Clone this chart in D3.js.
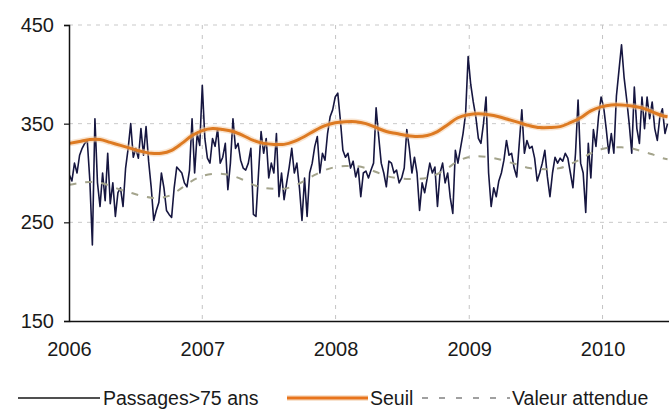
<!DOCTYPE html>
<html>
<head>
<meta charset="utf-8">
<script src="https://cdn.jsdelivr.net/npm/d3@7"></script>
<style>
  html, body { margin: 0; padding: 0; background: #fff; }
  svg { display: block; font-family: "Liberation Sans", Arial, sans-serif; }
</style>
</head>
<body>
<svg id="chart" width="669" height="411"></svg>
<script>
// ---- data ----
const startDate = new Date(2006, 0, 2); // first weekly point
const passages = [
  298,292,310,300,318,325,330,333,293,227,355,290,266,300,272,320,269,290,256,280,
  285,266,305,325,350,316,325,315,345,318,347,312,286,252,262,270,300,285,262,258,
  255,285,306,303,300,290,286,303,355,300,340,328,389,335,315,310,335,327,345,310,
  316,330,283,310,355,325,330,313,305,303,310,325,258,256,300,342,320,335,295,310,
  300,340,276,300,273,290,306,325,300,310,285,252,295,256,300,310,327,337,300,320,
  313,340,357,364,377,381,354,323,316,320,305,312,296,305,276,300,302,295,303,310,
  366,337,310,300,286,312,310,300,303,290,295,305,344,325,300,316,300,262,290,280,
  295,310,300,306,266,300,310,290,300,275,259,323,310,325,340,360,418,390,372,357,
  335,330,350,377,300,266,285,276,292,300,313,333,318,320,305,296,330,364,320,333,
  325,327,315,292,300,310,323,296,276,300,316,310,315,312,320,315,300,285,320,374,
  310,300,260,330,295,344,327,357,377,367,345,320,340,320,378,404,430,397,375,350,
  320,387,345,330,377,345,377,355,372,345,333,357,365,340,350
];
// Seuil and Valeur attendue, read every 4 weeks (last point = week 234)
const refWeeks = [0,4,8,12,16,20,24,28,32,36,40,44,48,52,56,60,64,68,72,76,80,84,88,92,96,
  100,104,108,112,116,120,124,128,132,136,140,144,148,152,156,160,164,168,172,176,180,184,
  188,192,196,200,204,208,212,216,220,224,228,232,234];
const seuil = [330,332,334,334,331,328,325,322,320,320,323,330,338,343,345,344,342,338,333,330,
  329,329,332,337,343,348,351,352,352,350,346,342,340,338,337,338,342,349,356,359,
  360,359,357,354,351,348,346,346,347,351,356,363,367,369,369,368,366,362,358,357];
const attendue = [288,290,291,290,287,283,280,277,275,275,278,285,292,297,299,299,297,293,288,285,
  284,284,287,292,298,303,306,307,307,305,301,297,295,294,294,295,299,305,312,316,
  317,316,314,311,308,305,304,304,305,309,314,320,324,326,326,325,322,319,315,314];
const yTicks = [150, 250, 350, 450];
const yearLabels = ["2006", "2007", "2008", "2009", "2010"];
const legendLabels = ["Passages>75 ans", "Seuil", "Valeur attendue"];

// ---- layout ----
const svg = d3.select("#chart");
const pL = 69, pR = 669, pT = 25, pB = 321;
const weekDate = i => d3.timeDay.offset(startDate, i * 7);

const x = d3.scaleTime()
  .domain([new Date(2006, 0, 1), new Date(2010, 6, 2)])
  .range([pL, pR]);
const y = d3.scaleLinear().domain([150, 450]).range([pB, pT]);

svg.append("defs").append("clipPath").attr("id", "clip")
  .append("rect").attr("x", pL).attr("y", 0).attr("width", pR - pL).attr("height", pB);

// grid lines
const grid = svg.append("g");
grid.selectAll("line.h").data(yTicks.filter(v => v > 150)).join("line")
  .attr("x1", pL).attr("x2", pR)
  .attr("y1", d => y(d)).attr("y2", d => y(d))
  .attr("stroke", "#c9c9c9").attr("stroke-width", 1).attr("stroke-dasharray", "4,5");
const yearDates = yearLabels.map(s => new Date(+s, 0, 1));
grid.selectAll("line.v").data(yearDates.slice(1)).join("line")
  .attr("x1", d => x(d)).attr("x2", d => x(d))
  .attr("y1", pT).attr("y2", pB)
  .attr("stroke", "#c4c4c4").attr("stroke-width", 1).attr("stroke-dasharray", "4,6");

const plot = svg.append("g").attr("clip-path", "url(#clip)");

// Passages line
const linePass = d3.line().x((d, i) => x(weekDate(i))).y(d => y(d));
plot.append("path").datum(passages)
  .attr("fill", "none").attr("stroke", "#161640").attr("stroke-width", 1.6)
  .attr("stroke-linejoin", "round").attr("d", linePass);

// Seuil
const lineRef = d3.line().curve(d3.curveCatmullRom)
  .x((d, i) => x(weekDate(refWeeks[i]))).y(d => y(d));
plot.append("path").datum(seuil)
  .attr("fill", "none").attr("stroke", "#f3c9a0").attr("stroke-width", 6).attr("opacity", 0.5)
  .attr("d", lineRef);
plot.append("path").datum(seuil)
  .attr("fill", "none").attr("stroke", "#dd7a22").attr("stroke-width", 3)
  .attr("d", lineRef);

// Valeur attendue
plot.append("path").datum(attendue)
  .attr("fill", "none").attr("stroke", "#a4a48c").attr("stroke-width", 2)
  .attr("stroke-dasharray", "7,9").attr("d", lineRef);

// axes
const yAxis = d3.axisLeft(y).tickValues(yTicks).tickSize(5).tickPadding(10);
const gy = svg.append("g").attr("transform", `translate(${pL},0)`).call(yAxis);
gy.select(".domain").attr("stroke", "#111").attr("stroke-width", 1.5);
gy.selectAll(".tick line").attr("stroke", "#111").attr("stroke-width", 1.2);
gy.selectAll(".tick text").attr("font-size", 20).attr("fill", "#1a1a1a")
  .attr("font-family", "Liberation Sans, Arial, sans-serif");

const xAxis = d3.axisBottom(x).tickValues(yearDates).tickSize(0).tickPadding(21)
  .tickFormat((d, i) => yearLabels[i]);
const gx = svg.append("g").attr("transform", `translate(0,${pB})`).call(xAxis);
gx.select(".domain").attr("stroke", "#111").attr("stroke-width", 1.5);
gx.selectAll(".tick text").attr("font-size", 20).attr("fill", "#1a1a1a")
  .attr("font-family", "Liberation Sans, Arial, sans-serif");

// legend
const ly = 398;
const leg = svg.append("g").attr("font-size", 19.5).attr("fill", "#1a1a1a");
leg.append("line").attr("x1", 18).attr("x2", 100).attr("y1", ly).attr("y2", ly)
  .attr("stroke", "#161616").attr("stroke-width", 1.5);
leg.append("text").attr("x", 103).attr("y", ly).attr("dy", "0.36em").text(legendLabels[0]);
leg.append("line").attr("x1", 287).attr("x2", 368).attr("y1", ly).attr("y2", ly)
  .attr("stroke", "#f3c9a0").attr("stroke-width", 6).attr("opacity", 0.5);
leg.append("line").attr("x1", 287).attr("x2", 368).attr("y1", ly).attr("y2", ly)
  .attr("stroke", "#e8741c").attr("stroke-width", 3);
leg.append("text").attr("x", 370).attr("y", ly).attr("dy", "0.36em").text(legendLabels[1]);
leg.append("line").attr("x1", 422).attr("x2", 510).attr("y1", ly).attr("y2", ly)
  .attr("stroke", "#a0a0a0").attr("stroke-width", 2).attr("stroke-dasharray", "6,11");
leg.append("text").attr("x", 512).attr("y", ly).attr("dy", "0.36em").text(legendLabels[2]);
</script>
</body>
</html>
